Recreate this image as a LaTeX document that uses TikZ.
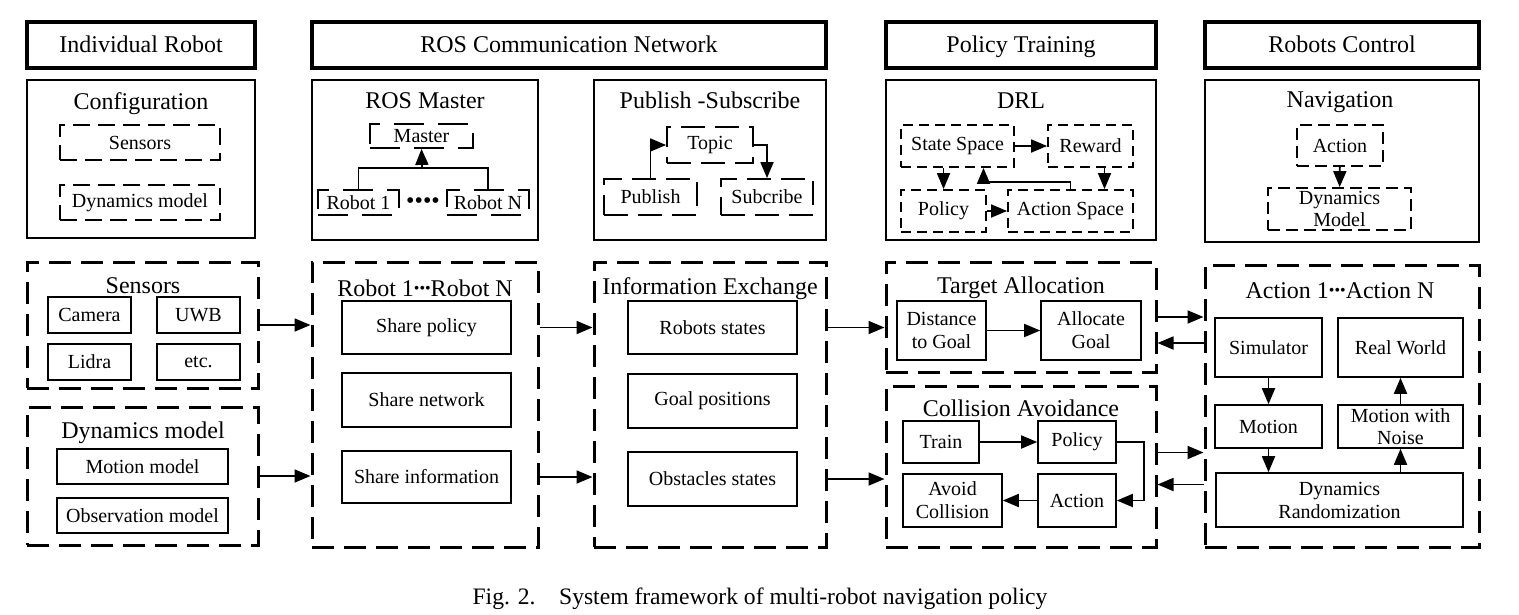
\documentclass[tikz,border=0pt]{standalone}
\usepackage{fontspec}
\setmainfont{Liberation Serif}
\usetikzlibrary{arrows.meta}

\newcommand{\tightdots}{\raisebox{1.3pt}{\fontsize{8}{8}\selectfont •••}}

\tikzset{
  pxbox/.style args={#1/#2/#3/#4}{at={({(#1+#3)/2},{(#2+#4)/2})},
                  minimum width={(#3-#1)*0.5pt},
                  minimum height={(#4-#2)*0.5pt}},
  head/.style   ={draw, line width=2pt, inner sep=0pt,
                  text height=8pt, text depth=0pt,
                  font=\fontsize{12}{14}\selectfont},
  panel/.style  ={draw, line width=1pt, inner sep=0pt},
  group/.style  ={draw, line width=1.5pt, dash pattern=on 11pt off 5pt,
                  inner sep=0pt},
  dbox/.style   ={draw, line width=0.9pt, dash pattern=on 8.5pt off 4pt,
                  inner sep=0pt, align=center,
                  font=\fontsize{10}{12}\selectfont},
  rosdash/.style={dash pattern=on 15pt off 7pt},
  pubdash/.style={dash pattern=on 12pt off 5pt},
  drldash/.style={dash pattern=on 5pt off 3pt},
  navdash/.style={dash pattern=on 6pt off 3pt},
  sbox/.style   ={draw, line width=0.8pt, inner sep=0pt, align=center,
                  font=\fontsize{10}{11.5}\selectfont},
  ttl/.style    ={inner sep=0pt, text height=8pt, text depth=0pt,
                  font=\fontsize{12}{14}\selectfont},
  flow/.style   ={-{Triangle[length=8pt,width=6.5pt]}, line width=0.9pt},
}

\begin{document}
\begin{tikzpicture}[x=0.5pt, y=-0.5pt]
\useasboundingbox (0,0) rectangle (1519,615);

% column headers
\node[head, pxbox=27/22/255/68] (hInd) {Individual Robot};
\node[head, pxbox=312/22/826/68] (hRos) {ROS Communication Network};
\node[head, pxbox=886/22/1156/68] (hPol) {Policy Training};
\node[head, pxbox=1205/22/1479/68] (hCtl) {Robots Control};

% configuration
\node[panel, pxbox=27/80/255/238] (pConf) {};
\node[ttl] (tConf) at (141,102) {Configuration};
\node[dbox, pxbox=60/125/220/160] (cSens) {Sensors};
\node[dbox, pxbox=60/185/220/220] (cDyn) {Dynamics model};

% ROS master
\node[panel, pxbox=312/80/538/240] (pMas) {};
\node[ttl] (tMas) at (425,101) {ROS Master};
\node[dbox, rosdash, pxbox=370/124/473/148] (master) {Master};
\node[dbox, rosdash, pxbox=318/190/399/215] (rob1) {Robot 1};
\node[dbox, rosdash, pxbox=447/190/529/215] (robN) {Robot N};
\node[inner sep=0pt, font=\fontsize{12}{14}\selectfont] (dots) at (423,203) {••••};
\coordinate (bus) at (422,169);
\draw[line width=0.9pt] (rob1.north) -- ++(0,-21) -| (robN.north);
\draw[flow] (bus) -- (master.south);

% publish - subscribe
\node[panel, pxbox=594/80/826/240] (pPub) {};
\node[ttl] (tPub) at (710,101) {Publish -Subscribe};
\node[dbox, pubdash, pxbox=667/127/753/163] (topic) {Topic};
\node[dbox, pubdash, pxbox=604/179/697/215] (pub) {Publish};
\node[dbox, pubdash, pxbox=721/179/813/215] (sub) {Subcribe};
\draw[flow] (pub.north) |- (topic.west);
\draw[flow] (topic.east) -| (sub.north);

% DRL
\node[panel, pxbox=886/80/1156/240] (pDrl) {};
\node[ttl] (tDrl) at (1021,101) {DRL};
\node[dbox, drldash, pxbox=901/125/1014/167] (state) {State Space};
\node[dbox, drldash, pxbox=1048/125/1133/167] (reward) {Reward};
\node[dbox, drldash, pxbox=901/190/986/232] (policy) {Policy};
\node[dbox, drldash, pxbox=1008/190/1133/232] (aspace) {Action Space};
\draw[flow] (state) -- (reward);
\draw[flow] (state.south -| policy.north) -- (policy.north);
\coordinate (rwOut) at ([xshift=7pt]reward.south);
\draw[flow] (rwOut) -- (rwOut |- aspace.north);
\coordinate (stIn) at ([xshift=13pt]state.south);
\draw[flow] (aspace.north) -- ++(0,-7) -| (stIn);
\draw[flow] (policy) -- (aspace);

% navigation
\node[panel, pxbox=1205/80/1479/242] (pNav) {};
\node[ttl] (tNav) at (1340,100) {Navigation};
\node[dbox, navdash, pxbox=1297/125/1383/166] (nAct) {Action};
\node[dbox, navdash, pxbox=1268/188/1411/230, font=\fontsize{10}{11}\selectfont]
  (nDyn) {Dynamics\\Model};
\draw[flow] (nAct) -- (nDyn);

% sensors and dynamics model
\node[group, pxbox=27/262/258/388] (gSens) {};
\node[ttl] (tSens) at (143,285) {Sensors};
\node[sbox, pxbox=48/297/131/333] (camera) {Camera};
\node[sbox, pxbox=157/297/240/333] (uwb) {UWB};
\node[sbox, pxbox=48/344/131/380] (lidra) {Lidra};
\node[sbox, pxbox=157/344/240/380] (etc) {etc.};

\node[group, pxbox=27/407/258/545] (gDyn) {};
\node[ttl] (tDyn) at (143,430) {Dynamics model};
\node[sbox, pxbox=57/449/228/484] (motMod) {Motion model};
\node[sbox, pxbox=57/498/228/533] (obsMod) {Observation model};

% robots
\node[group, pxbox=312/262/538/547] (gRob) {};
\node[ttl] (tRob) at (425,288) {Robot 1\tightdots Robot N};
\node[sbox, pxbox=342/301/511/354] (shPol) {Share policy};
\node[sbox, pxbox=342/373/511/427] (shNet) {Share network};
\node[sbox, pxbox=342/451/511/503] (shInf) {Share information};

% information exchange
\node[group, pxbox=594/262/826/547] (gInf) {};
\node[ttl] (tInf) at (710,286) {Information Exchange};
\node[sbox, pxbox=628/301/797/354] (rState) {Robots states};
\node[sbox, pxbox=628/374/797/428] (gPos) {Goal positions};
\node[sbox, pxbox=628/452/797/506] (oState) {Obstacles states};

% target allocation
\node[group, pxbox=886/262/1156/372] (gTar) {};
\node[ttl] (tTar) at (1021,285) {Target Allocation};
\node[sbox, pxbox=897/301/986/360] (dist) {Distance\\to Goal};
\node[sbox, pxbox=1041/301/1141/360] (alloc) {Allocate\\Goal};
\draw[flow] (dist) -- (alloc);

% collision avoidance
\node[group, pxbox=886/386/1156/547] (gCol) {};
\node[ttl] (tCol) at (1021,408) {Collision Avoidance};
\node[sbox, pxbox=903/421/979/463] (train) {Train};
\node[sbox, pxbox=1038/421/1116/463] (cPol) {Policy};
\node[sbox, pxbox=903/474/1002/527] (avoid) {Avoid\\Collision};
\node[sbox, pxbox=1038/474/1116/527] (cAct) {Action};
\draw[flow] (train) -- (cPol);
\draw[flow] (cPol.east) -- ++(27,0) |- (cAct.east);
\draw[flow] (cAct) -- (avoid);

% actions
\node[group, pxbox=1205/265/1479/547] (gAct) {};
\node[ttl] (tAct) at (1340,290) {Action 1\tightdots Action N};
\node[sbox, pxbox=1215/318/1322/377] (sim) {Simulator};
\node[sbox, pxbox=1338/318/1463/377] (real) {Real World};
\node[sbox, pxbox=1215/405/1322/448] (motion) {Motion};
\node[sbox, pxbox=1338/405/1463/448, font=\fontsize{10}{11}\selectfont]
  (mNoise) {Motion with\\Noise};
\node[sbox, pxbox=1216/473/1463/527] (dRand) {Dynamics\\Randomization};
\draw[flow] (sim) -- (motion);
\draw[flow] (motion.south) -- (motion.south |- dRand.north);
\draw[flow] (dRand.north -| mNoise.south) -- (mNoise.south);
\draw[flow] (mNoise) -- (real);

% links between columns
\draw[flow] (gSens.east) -- (gSens.east -| gRob.west);
\draw[flow] (gDyn.east) -- (gDyn.east -| gRob.west);
\draw[flow] (gRob.east |- shPol) -- (gInf.west |- shPol);
\draw[flow] (gRob.east |- shInf) -- (gInf.west |- shInf);
\draw[flow] (gInf.east |- rState) -- (gTar.west |- rState);
\draw[flow] (gInf.east |- oState) -- (gCol.west |- oState);
\coordinate (tarBack) at ([yshift=-13pt]gTar.east);
\draw[flow] (gTar.east) -- (gTar.east -| gAct.west);
\draw[flow] (tarBack -| gAct.west) -- (tarBack);
\coordinate (colOut) at ([yshift=7pt]gCol.east);
\coordinate (colBack) at ([yshift=-9pt]gCol.east);
\draw[flow] (colOut) -- (colOut -| gAct.west);
\draw[flow] (colBack -| gAct.west) -- (colBack);

\node[font=\fontsize{11.8}{13}\selectfont] (caption) at (760,599)
  {Fig. 2.\quad System framework of multi-robot navigation policy};

\end{tikzpicture}
\end{document}
